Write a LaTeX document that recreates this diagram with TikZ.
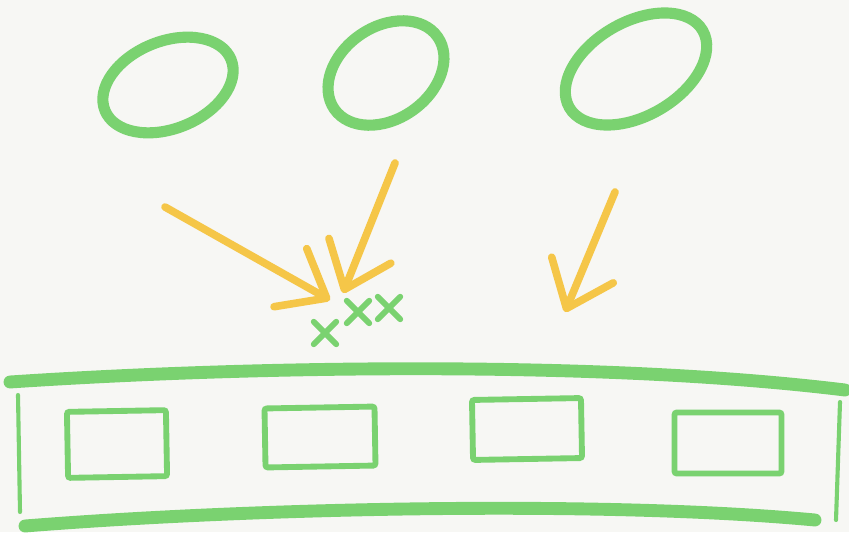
\documentclass[tikz,border=0pt]{standalone}
\usepackage{tikz}
\usetikzlibrary{positioning, arrows.meta, shapes.geometric, shapes.misc}
\definecolor{skgreen}{RGB}{122,210,112}
\definecolor{skyellow}{RGB}{245,198,72}
\definecolor{paper}{RGB}{247,247,244}

\begin{document}
\begin{tikzpicture}[
  x=0.03cm, y=-0.03cm,
  blob/.style={ellipse, draw=skgreen, line width=9.5pt, inner sep=0pt, outer sep=0pt},
  slot/.style={rectangle, draw=skgreen, line width=5pt, rounded corners=2pt,
               inner sep=0pt, line cap=round},
  hit/.style={cross out, draw=skgreen, line width=5pt, line cap=round,
               minimum size=0.5cm, inner sep=0pt},
  rim/.style={draw=skgreen, line cap=round},
  arr/.style={-{Straight Barb[round, length=1.25cm, width=2cm]}, line width=6.5pt,
              color=skyellow, line cap=round}
]
  \fill[paper] (0,0) rectangle (849,532);
  \useasboundingbox (0,0) rectangle (849,532);

  % sources
  \node[blob, minimum width=4.08cm, minimum height=2.62cm, rotate=22] (src1) at (168,85) {};
  \node[blob, minimum width=3.78cm, minimum height=2.76cm, rotate=35] (src2) at (386,73) {};
  \node[blob, minimum width=4.62cm, minimum height=2.82cm, rotate=30] (src3) at (636,69) {};

  % arrows
  \coordinate (a1s) at (165,207);  \coordinate (a1e) at (330,300);
  \coordinate (a2s) at (395,163);  \coordinate (a2e) at (343,293);
  \coordinate (a3s) at (615,192);  \coordinate (a3e) at (565,312);
  \draw[arr] (a1s) -- (a1e);
  \draw[arr] (a2s) -- (a2e);
  \draw[arr] (a3s) -- (a3e);

  % hits
  \node[hit] (x1) at (325,333) {};
  \node[hit] (x2) at (358,312) {};
  \node[hit] (x3) at (389,308) {};

  % container
  \draw[rim, line width=11pt] (10,382) .. controls (250,366) and (600,360) .. (845,390);
  \draw[rim, line width=11pt] (25,526) .. controls (250,508) and (600,500) .. (815,520);
  \draw[rim, line width=3.5pt] (18,395) -- (20,512);
  \draw[rim, line width=3.5pt] (840,402) -- (836,520);

  % slots
  \node[slot, minimum width=2.97cm, minimum height=1.98cm, rotate=1]  (box1) at (117,444) {};
  \node[slot, minimum width=3.3cm,  minimum height=1.77cm, rotate=1]  (box2) at (320,437) {};
  \node[slot, minimum width=3.27cm, minimum height=1.8cm,  rotate=1]  (box3) at (527,429) {};
  \node[slot, minimum width=3.21cm, minimum height=1.83cm]            (box4) at (728,443) {};
\end{tikzpicture}
\end{document}
